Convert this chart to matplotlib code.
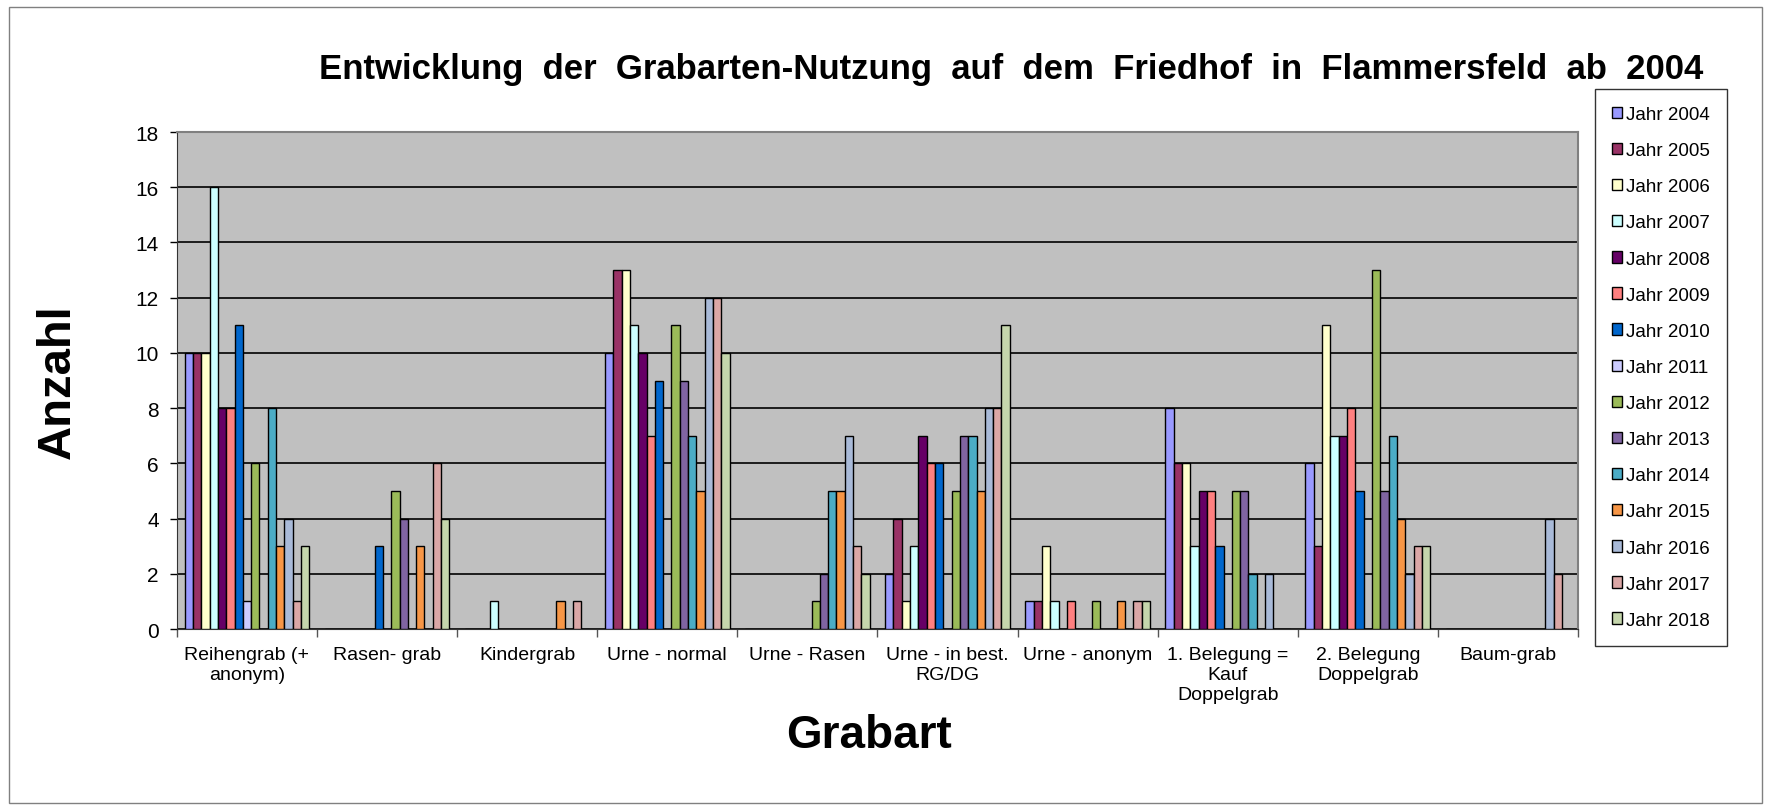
import numpy as np
import matplotlib
matplotlib.use("Agg")
import matplotlib.pyplot as plt
from matplotlib.patches import Rectangle

plt.rcParams['font.family'] = ['Liberation Sans', 'DejaVu Sans']

# ------------------------------------
# Data
# ------------------------------------

categories = ['Reihengrab (+\nanonym)', 'Rasen- grab', 'Kindergrab', 'Urne - normal',
              'Urne - Rasen', 'Urne - in best.\nRG/DG', 'Urne - anonym',
              '1. Belegung =\nKauf\nDoppelgrab', '2. Belegung\nDoppelgrab', 'Baum-grab']

years = ['Jahr 2004', 'Jahr 2005', 'Jahr 2006', 'Jahr 2007', 'Jahr 2008',
         'Jahr 2009', 'Jahr 2010', 'Jahr 2011', 'Jahr 2012', 'Jahr 2013',
         'Jahr 2014', 'Jahr 2015', 'Jahr 2016', 'Jahr 2017', 'Jahr 2018']

# one row per category, one column per year
reihengrab   = [10, 10, 10, 16, 8, 8, 11, 1, 6, 0, 8, 3, 4, 1, 3]
rasengrab    = [0, 0, 0, 0, 0, 0, 3, 0, 5, 4, 0, 3, 0, 6, 4]
kindergrab   = [0, 0, 0, 1, 0, 0, 0, 0, 0, 0, 0, 1, 0, 1, 0]
urne_normal  = [10, 13, 13, 11, 10, 7, 9, 0, 11, 9, 7, 5, 12, 12, 10]
urne_rasen   = [0, 0, 0, 0, 0, 0, 0, 0, 1, 2, 5, 5, 7, 3, 2]
urne_best    = [2, 4, 1, 3, 7, 6, 6, 0, 5, 7, 7, 5, 8, 8, 11]
urne_anonym  = [1, 1, 3, 1, 0, 1, 0, 0, 1, 0, 0, 1, 0, 1, 1]
belegung_1   = [8, 6, 6, 3, 5, 5, 3, 0, 5, 5, 2, 0, 2, 0, 0]
belegung_2   = [6, 3, 11, 7, 7, 8, 5, 0, 13, 5, 7, 4, 2, 3, 3]
baumgrab     = [0, 0, 0, 0, 0, 0, 0, 0, 0, 0, 0, 0, 4, 2, 0]

values = np.array([reihengrab, rasengrab, kindergrab, urne_normal, urne_rasen,
                   urne_best, urne_anonym, belegung_1, belegung_2, baumgrab])

colors = ['#9999FF', '#993366', '#FFFFCC', '#CCFFFF', '#660066',
          '#FF8080', '#0066CC', '#CCCCFF', '#9BBB59', '#8064A2',
          '#4BACC6', '#F79646', '#A9BAD8', '#DBA7A6', '#C5D6AC']

# ------------------------------------
# Plot
# ------------------------------------

fig = plt.figure(figsize=(17.71, 8.12), dpi=100)
ax = fig.add_axes([0.0999, 0.2241, 0.7911, 0.6121])
ax.set_facecolor('#C0C0C0')

n_years = len(years)
bar_w = 0.0593
x = np.arange(len(categories))
for i, (yr, col) in enumerate(zip(years, colors)):
    offs = 0.5 - n_years * bar_w / 2 + (i + 0.5) * bar_w
    ax.bar(x + offs, values[:, i], width=bar_w, color=col,
           edgecolor='black', linewidth=1.0, label=yr, zorder=3)

ax.set_xlim(0, len(categories))
ax.set_ylim(0, 18)
ax.set_yticks(range(0, 19, 2))
ax.yaxis.grid(True, color='black', linewidth=1.2, zorder=1)
ax.set_axisbelow(True)

ax.set_xticks(np.arange(len(categories) + 1))
ax.set_xticklabels([])
ax.set_xticks(x + 0.5, minor=True)
ax.set_xticklabels(categories, minor=True, fontsize=14, va='top',
                   linespacing=1.25)
ax.tick_params(axis='x', which='minor', length=0, pad=12)
ax.tick_params(axis='x', which='major', length=6, width=1, color='#555555')
ax.tick_params(axis='y', length=5, width=1, labelsize=15, pad=8)

for side in ['top', 'right']:
    ax.spines[side].set_color('#808080')
    ax.spines[side].set_linewidth(1.5)
ax.spines['left'].set_color('#333333')
ax.spines['bottom'].set_color('#333333')

ax.set_ylabel('Anzahl', fontsize=34, fontweight='bold', labelpad=40)
ax.set_xlabel('Grabart', fontsize=33, fontweight='bold')
ax.xaxis.set_label_coords(0.494, -0.168)

title = 'Entwicklung der Grabarten-Nutzung auf dem Friedhof in Flammersfeld ab 2004'
fig.text(0.571, 0.914, title.replace(' ', '  '),
         ha='center', va='center', fontsize=25, fontweight='bold')

leg = fig.legend(loc='upper left', bbox_to_anchor=(0.9006, 0.889),
                 fontsize=13.5, frameon=True, fancybox=False,
                 handlelength=0.55, handleheight=0.55, handletextpad=0.2,
                 labelspacing=1.02, borderpad=0.9, borderaxespad=0)
leg.get_frame().set_edgecolor('black')
leg.get_frame().set_linewidth(1.0)

# outer chart border
fig.patches.append(Rectangle((0.005, 0.01), 0.99, 0.98, transform=fig.transFigure,
                             fill=False, edgecolor='#808080', linewidth=1))

fig.savefig('out.png', dpi=100)
